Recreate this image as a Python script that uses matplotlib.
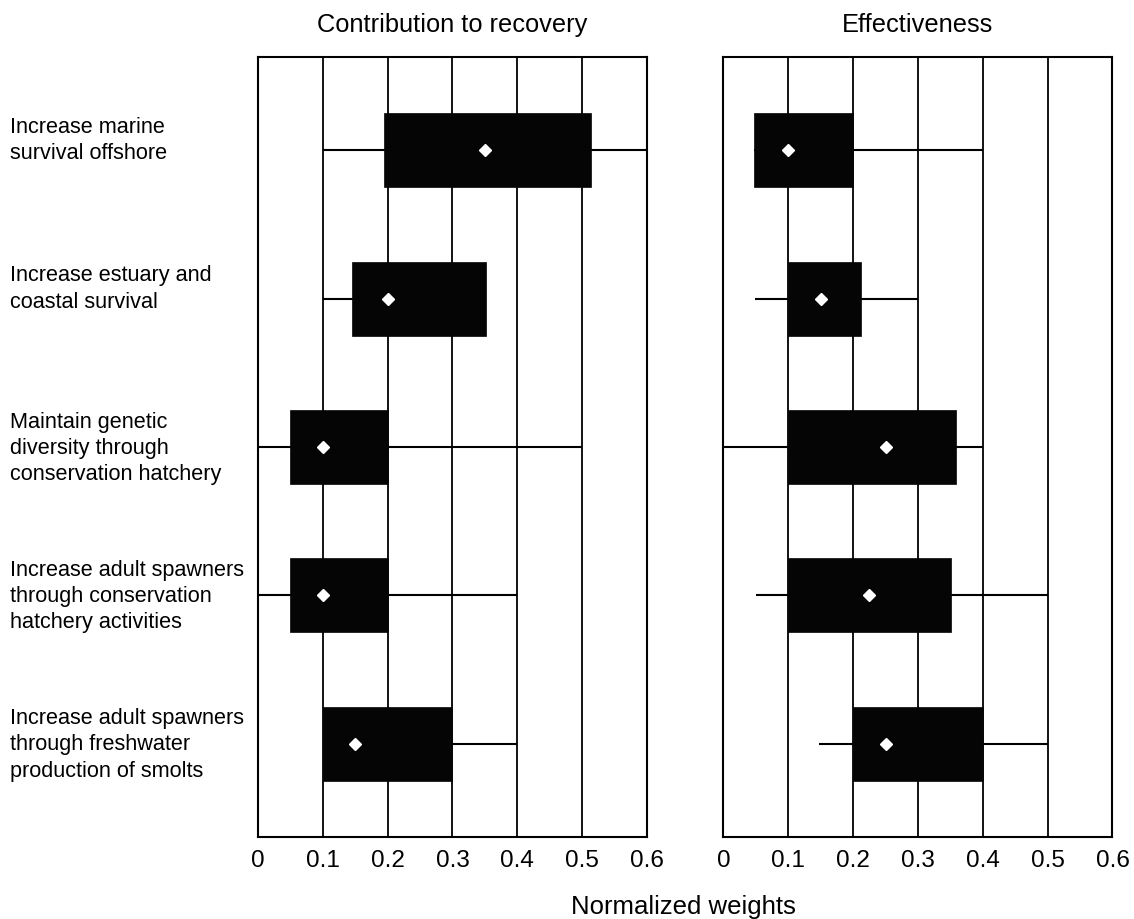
import matplotlib
matplotlib.use("Agg")
import matplotlib.pyplot as plt
from matplotlib import font_manager as fm

categories = [
    "Increase marine\nsurvival offshore",
    "Increase estuary and\ncoastal survival",
    "Maintain genetic\ndiversity through\nconservation hatchery",
    "Increase adult spawners\nthrough conservation\nhatchery activities",
    "Increase adult spawners\nthrough freshwater\nproduction of smolts",
]

panel_titles = ["Contribution to recovery", "Effectiveness"]

contrib_min = [0.10, 0.10, 0.00, 0.00, 0.10]
contrib_q1 = [0.195, 0.145, 0.05, 0.05, 0.10]
contrib_med = [0.35, 0.20, 0.10, 0.10, 0.15]
contrib_q3 = [0.513, 0.352, 0.20, 0.20, 0.30]
contrib_max = [0.60, 0.352, 0.50, 0.40, 0.40]

eff_min = [0.0475, 0.049, 0.00, 0.05, 0.148]
eff_q1 = [0.0475, 0.10, 0.10, 0.10, 0.20]
eff_med = [0.10, 0.15, 0.25, 0.225, 0.25]
eff_q3 = [0.20, 0.212, 0.358, 0.351, 0.40]
eff_max = [0.40, 0.30, 0.40, 0.50, 0.50]

xticks = [0, 0.1, 0.2, 0.3, 0.4, 0.5, 0.6]
xticklabels = ["0", "0.1", "0.2", "0.3", "0.4", "0.5", "0.6"]

names = {f.name for f in fm.fontManager.ttflist}
main_font = "Liberation Sans" if "Liberation Sans" in names else "DejaVu Sans"

fig = plt.figure(figsize=(11.34, 9.19), dpi=100)
ax1 = fig.add_axes([0.2275, 0.0892, 0.343, 0.8488])
ax2 = fig.add_axes([0.638, 0.0892, 0.343, 0.8488])

ypos = list(range(1, len(categories) + 1))

datasets = [
    (contrib_min, contrib_q1, contrib_med, contrib_q3, contrib_max),
    (eff_min, eff_q1, eff_med, eff_q3, eff_max),
]

for ax, title, (mn, q1, med, q3, mx) in zip([ax1, ax2], panel_titles, datasets):
    ax.set_xlim(0, 0.6)
    ax.set_ylim(5.63, 0.37)
    for xv in xticks[1:-1]:
        ax.axvline(xv, color="black", lw=1.3, zorder=1)
    ax.hlines(ypos, mn, mx, color="black", lw=1.5, zorder=2)
    widths = [b - a for a, b in zip(q1, q3)]
    ax.barh(ypos, widths, left=q1, height=0.5, color="#050505",
            edgecolor="#050505", lw=0.5, zorder=3)
    ax.plot(med, ypos, linestyle="none", marker="D", markersize=6,
            color="white", markeredgecolor="white", zorder=4)
    ax.set_xticks(xticks)
    ax.set_xticklabels(xticklabels, fontsize=17.5, family=main_font)
    ax.tick_params(axis="x", length=0, pad=9)
    ax.set_yticks([])
    for s in ax.spines.values():
        s.set_linewidth(1.5)
        s.set_color("black")
    ax.set_title(title, fontsize=18.3, family=main_font, pad=18)

# category labels, left-aligned at the figure's left edge
ytrans = ax1.get_yaxis_transform()
for y, lab in zip(ypos, categories):
    nlines = lab.count("\n") + 1
    dy = 7.0 if nlines == 2 else -1.0
    ax1.annotate(lab, xy=(0, y), xycoords=ytrans,
                 xytext=(-178.5, dy), textcoords="offset points",
                 ha="left", va="center", multialignment="left",
                 linespacing=1.33, fontsize=15.6, family=main_font,
                 annotation_clip=False)

fig.text(0.603, 0.0135, "Normalized weights", ha="center", va="center",
         fontsize=18.5, family=main_font)

fig.savefig("out.png", dpi=100)
